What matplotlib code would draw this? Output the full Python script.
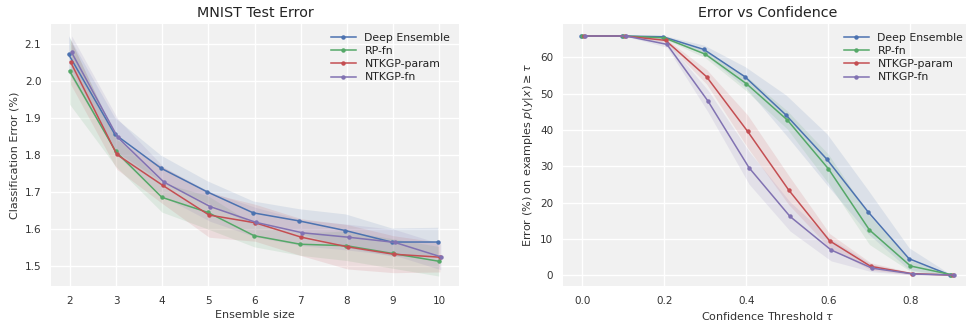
import numpy as np
import matplotlib
matplotlib.use('Agg')
import matplotlib.pyplot as plt

# --- data ---
methods = ['Deep Ensemble', 'RP-fn', 'NTKGP-param', 'NTKGP-fn']
colors = ['#4C72B0', '#55A868', '#C44E52', '#8172B2']
offsets_left = [-0.03, -0.008, 0.015, 0.037]
offsets_right = [-0.0035, 0.0, 0.003, 0.0065]

ens_size = [2, 3, 4, 5, 6, 7, 8, 9, 10]
mnist_err = [
    [2.073, 1.857, 1.765, 1.701, 1.644, 1.622, 1.596, 1.565, 1.565],
    [2.028, 1.810, 1.686, 1.645, 1.582, 1.559, 1.555, 1.534, 1.513],
    [2.052, 1.802, 1.718, 1.638, 1.617, 1.578, 1.552, 1.532, 1.524],
    [2.078, 1.848, 1.727, 1.661, 1.618, 1.590, 1.578, 1.564, 1.525],
]
mnist_band = [
    [0.050, 0.045, 0.035, 0.030, 0.032, 0.033, 0.045, 0.038, 0.040],
    [0.090, 0.040, 0.040, 0.045, 0.030, 0.030, 0.040, 0.040, 0.040],
    [0.060, 0.040, 0.050, 0.060, 0.050, 0.050, 0.060, 0.050, 0.040],
    [0.045, 0.050, 0.040, 0.040, 0.040, 0.035, 0.035, 0.035, 0.035],
]

tau = [0.0, 0.1, 0.2, 0.3, 0.4, 0.5, 0.6, 0.7, 0.8, 0.9]
conf_err = [
    [65.8, 65.8, 65.6, 62.1, 54.6, 44.1, 31.9, 17.5, 4.6, 0.1],
    [65.8, 65.8, 65.3, 60.8, 52.7, 42.7, 29.3, 12.5, 2.6, 0.2],
    [65.8, 65.8, 64.6, 54.6, 39.6, 23.5, 9.5, 2.5, 0.5, 0.1],
    [65.8, 65.8, 63.5, 47.9, 29.6, 16.2, 7.0, 2.0, 0.4, 0.1],
]
conf_band = [
    [0.1, 0.1, 0.4, 1.2, 2.8, 5.5, 7.0, 6.0, 3.0, 0.3],
    [0.1, 0.1, 0.3, 1.0, 2.0, 2.5, 4.0, 4.0, 1.5, 0.2],
    [0.1, 0.1, 0.5, 2.0, 4.5, 4.0, 2.0, 1.0, 0.3, 0.1],
    [0.1, 0.1, 0.8, 3.0, 4.5, 4.0, 3.0, 1.0, 0.3, 0.1],
]

plt.rcParams.update({
    'axes.facecolor': '#f1f1f1',
    'axes.edgecolor': 'none',
    'axes.grid': True,
    'grid.color': 'white',
    'grid.linewidth': 1.0,
    'xtick.major.size': 0,
    'ytick.major.size': 0,
    'xtick.color': '#333333',
    'ytick.color': '#333333',
    'axes.labelcolor': '#333333',
    'text.color': '#222222',
})


def panel(ax, xs, ys, bands, offsets, title, xlabel, ylabel):
    for i, name in enumerate(methods):
        x = np.array(xs) + offsets[i]
        y = np.array(ys[i])
        b = np.array(bands[i])
        ax.fill_between(x, y - b, y + b, color=colors[i], alpha=0.13, lw=0)
        ax.plot(x, y, '-o', color=colors[i], lw=1.1, ms=2.2, label=name)
    ax.set_axisbelow(True)
    ax.set_title(title, fontsize=10.3, pad=5)
    ax.set_xlabel(xlabel, fontsize=8, labelpad=3)
    ax.set_ylabel(ylabel, fontsize=8)
    ax.tick_params(labelsize=7.5, pad=7)
    ax.legend(loc='upper right', frameon=False, fontsize=7.8,
              handlelength=2.3, labelspacing=0.3, borderaxespad=0.4)


fig = plt.figure(figsize=(9.66, 3.22), dpi=100)
ax1 = fig.add_axes([51 / 966, 1 - 286 / 322, 408 / 966, 262 / 322])
# right panel runs slightly past the right edge of the picture, as in the original crop
ax2 = fig.add_axes([563 / 966, 1 - 286 / 322, 409 / 966, 262 / 322])

panel(ax1, ens_size, mnist_err, mnist_band, offsets_left,
      'MNIST Test Error', 'Ensemble size', 'Classification Error (%)')
ax1.set_xlim(1.59, 10.43)
ax1.set_ylim(1.446, 2.155)
ax1.set_xticks(ens_size)
ax1.set_yticks([1.5, 1.6, 1.7, 1.8, 1.9, 2.0, 2.1])

panel(ax2, tau, conf_err, conf_band, offsets_right,
      'Error vs Confidence', r'Confidence Threshold $\tau$',
      r'Error (%) on examples $p(y|x) \geq \tau$')
ax2.set_xlim(-0.047, 0.95)
ax2.set_ylim(-2.9, 69.1)
ax2.set_xticks([0.0, 0.2, 0.4, 0.6, 0.8])
ax2.set_yticks([0, 10, 20, 30, 40, 50, 60])

fig.savefig('out.png', dpi=100)
